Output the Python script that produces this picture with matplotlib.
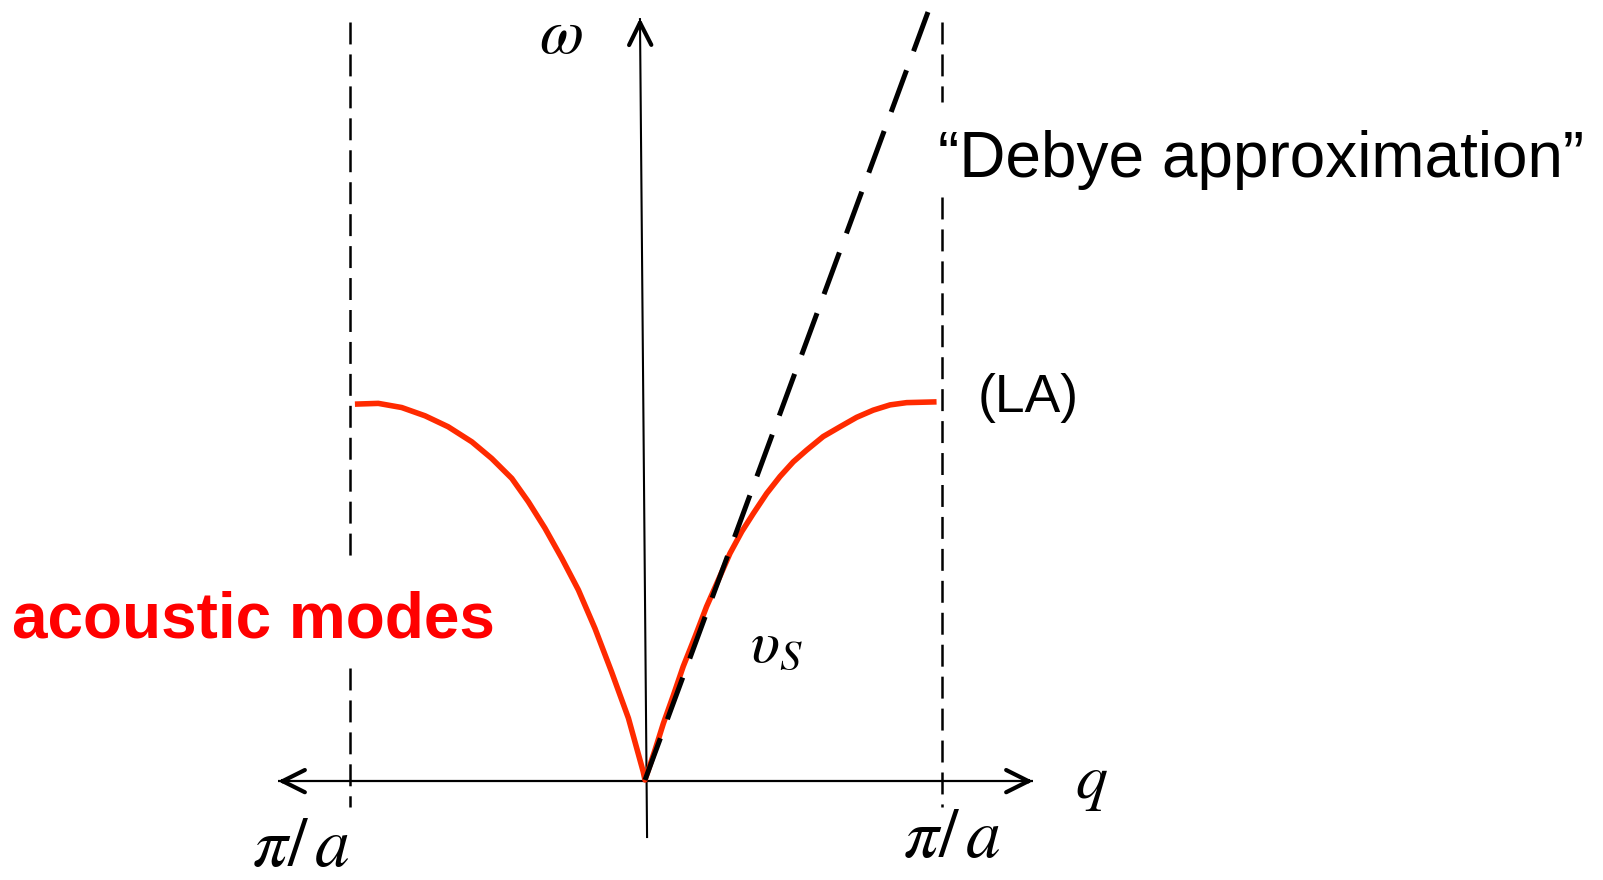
import matplotlib
matplotlib.use("Agg")
import matplotlib.pyplot as plt

plt.rcParams['mathtext.fontset'] = 'stix'
plt.rcParams['lines.scale_dashes'] = False

# ---- data (q in units of pi/a, omega normalised to the LA zone-edge value) ----
q_curve = [-0.980, -0.901, -0.822, -0.743, -0.665, -0.585, -0.518, -0.450, -0.394,
           -0.338, -0.281, -0.225, -0.169, -0.113, -0.056, -0.006, 0.0,
           0.034, 0.062, 0.096, 0.129, 0.169, 0.208, 0.248, 0.287, 0.327, 0.366,
           0.411, 0.456, 0.501, 0.546, 0.602, 0.659, 0.715, 0.771, 0.828, 0.884, 0.985]
w_curve = [0.997, 0.999, 0.988, 0.966, 0.937, 0.897, 0.853, 0.800, 0.738,
           0.668, 0.588, 0.504, 0.402, 0.287, 0.164, 0.022, 0.0,
           0.080, 0.150, 0.225, 0.301, 0.380, 0.460, 0.531, 0.601, 0.659, 0.707,
           0.760, 0.805, 0.844, 0.875, 0.911, 0.937, 0.962, 0.981, 0.995, 1.001, 1.003]
debye_q = [0.0, 0.956]
debye_w = [0.0, 2.037]
zone_q = [-0.995, 1.003]           # Brillouin-zone boundaries (-pi/a, +pi/a)
zone_w_top = 2.01
zone_w_bot = -0.072
left_gap = (0.297, 0.576)          # gaps in the dashed boundary lines (for the labels)
right_gap = (1.546, 1.798)
haxis_q = [-1.240, 1.311]
haxis_w = [-0.003, -0.003]
vaxis_q = [0.007, -0.017]
vaxis_w = [-0.154, 2.021]

label_omega = r'$\omega$'
label_q = r'$q$'
label_pia = r'$\pi/\,a$'
label_vs = r'$\upsilon_S$'
label_debye = '\u201cDebye approximation\u201d'
label_la = '(LA)'
label_acoustic = 'acoustic modes'

red = '#ff2a00'

fig = plt.figure(figsize=(16.03, 8.80), dpi=100)
ax = fig.add_axes([0, 0, 1, 1])
ax.set_xlim(-645 / 296, (1603 - 645) / 296)
ax.set_ylim((780 - 880) / 377, 780 / 377)
ax.axis('off')

# dashed zone boundaries
dash_thin = (0, (15.8, 7.2))
ax.plot([zone_q[0], zone_q[0]], [zone_w_top, left_gap[1]], color='black', lw=1.8, ls=dash_thin)
ax.plot([zone_q[0], zone_q[0]], [left_gap[0], zone_w_bot], color='black', lw=1.8, ls=dash_thin)
ax.plot([zone_q[1], zone_q[1]], [zone_w_top, right_gap[1]], color='black', lw=1.8, ls=dash_thin)
ax.plot([zone_q[1], zone_q[1]], [right_gap[0], zone_w_bot], color='black', lw=1.8, ls=dash_thin)

# axes lines
ax.plot(haxis_q, haxis_w, color='black', lw=1.6, solid_capstyle='butt', zorder=1)
ax.plot(vaxis_q, vaxis_w, color='black', lw=1.5, solid_capstyle='butt', zorder=1)

def head(xy, xyfrom):
    ax.annotate('', xy=xy, xytext=xyfrom,
                arrowprops=dict(arrowstyle='->,head_length=0.4,head_width=0.2',
                                mutation_scale=40, lw=3.0, color='black',
                                shrinkA=0, shrinkB=0), zorder=2)

head((haxis_q[0], haxis_w[0]), (haxis_q[0] + 0.03, haxis_w[0]))
head((haxis_q[1], haxis_w[1]), (haxis_q[1] - 0.03, haxis_w[1]))
dq = vaxis_q[1] - vaxis_q[0]
dw = vaxis_w[1] - vaxis_w[0]
head((vaxis_q[1], vaxis_w[1]), (vaxis_q[1] - 0.01 * dq, vaxis_w[1] - 0.01 * dw))

# dispersion curve and Debye line
ax.plot(q_curve, w_curve, color=red, lw=4.0, solid_capstyle='butt',
        solid_joinstyle='round', zorder=3)
ax.plot(debye_q, debye_w, color='black', lw=3.6, ls=(0, (32, 14.6)),
        dash_capstyle='butt', zorder=4)

# labels
ax.text(-0.284, 1.928, label_omega, fontsize=46, ha='center', va='baseline')
ax.text(1.507, -0.048, label_q, fontsize=46, ha='center', va='baseline')
ax.text(-1.162, -0.228, label_pia, fontsize=50, ha='center', va='baseline')
ax.text(1.037, -0.204, label_pia, fontsize=50, ha='center', va='baseline')
ax.text(0.355, 0.313, label_vs, fontsize=44, ha='left', va='baseline')
ax.text(0.990, 1.599, label_debye, fontsize=46, family='Liberation Sans',
        ha='left', va='baseline')
ax.text(1.125, 0.976, label_la, fontsize=38.5, family='Liberation Sans',
        ha='left', va='baseline')
ax.text(-2.139, 0.377, label_acoustic, fontsize=46, family='Liberation Sans',
        fontweight='bold', color='#ff0000', ha='left', va='baseline')

fig.savefig('out.png', dpi=100)
